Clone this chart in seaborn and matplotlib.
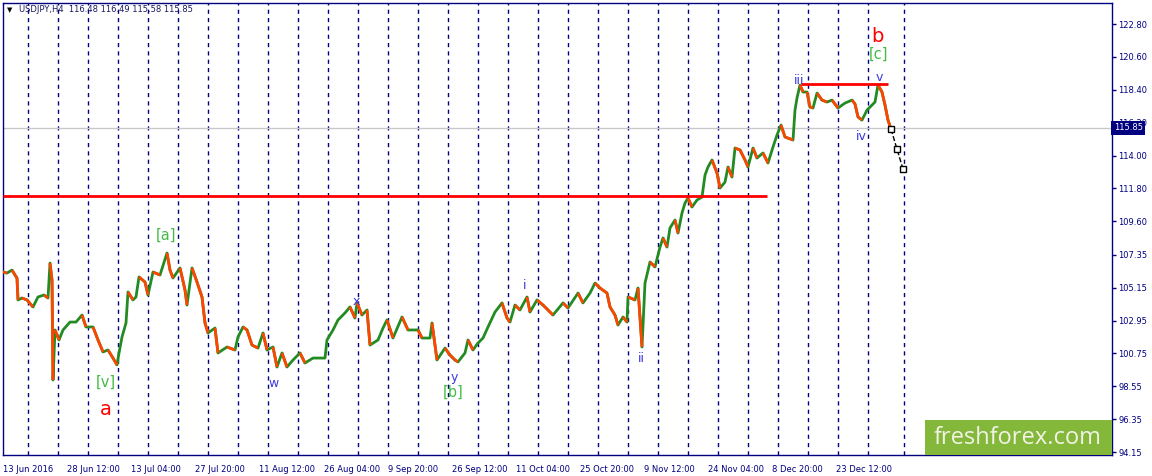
import numpy as np
import seaborn as sns
import matplotlib.pyplot as plt
import matplotlib.transforms as mtransforms
from matplotlib.patches import Rectangle

# H4 bar index (one bar ~ one pixel) and closing prices
bar_idx = [0, 4, 9, 12, 14, 15, 19, 24, 30, 35,
           41, 45, 47, 49, 50, 52, 56, 60, 67, 73,
           79, 83, 90, 95, 100, 105, 110, 114, 116, 119,
           123, 125, 130, 133, 136, 142, 145, 150, 157, 164,
           167, 170, 177, 182, 184, 189, 194, 199, 202, 205,
           212, 215, 224, 232, 235, 240, 244, 249, 255, 260,
           264, 270, 274, 279, 284, 290, 297, 302, 310, 322,
           324, 330, 335, 342, 347, 352, 354, 359, 364, 367,
           375, 380, 384, 390, 399, 405, 415, 419, 427, 429,
           434, 442, 447, 452, 455, 462, 465, 470, 475, 480,
           485, 492, 499, 504, 507, 512, 517, 524, 527, 534,
           540, 550, 560, 565, 575, 580, 587, 592, 597, 604,
           607, 612, 615, 620, 624, 625, 632, 635, 639, 642,
           647, 652, 657, 660, 664, 667, 672, 675, 679, 682,
           685, 689, 694, 699, 702, 705, 709, 714, 717, 722,
           725, 729, 732, 737, 742, 745, 750, 754, 760, 765,
           770, 774, 778, 782, 790, 792, 794, 797, 800, 804,
           807, 810, 814, 819, 824, 829, 835, 842, 849, 852,
           855, 859, 864, 869, 872, 875, 879, 882, 885, 888]
price = [106.20, 106.13, 106.33, 106.00, 105.80, 104.33, 104.46, 104.33, 103.86, 104.53,
         104.66, 104.46, 106.80, 105.67, 98.97, 102.32, 101.65, 102.32, 102.85, 102.85,
         103.32, 102.52, 102.52, 101.65, 100.85, 100.98, 100.44, 99.98, 100.78, 101.85,
         102.79, 104.86, 104.33, 104.53, 105.87, 105.53, 104.66, 106.20, 106.00, 107.47,
         106.33, 105.80, 106.47, 105.00, 103.99, 106.47, 105.53, 104.53, 102.79, 102.12,
         102.45, 100.78, 101.18, 100.98, 101.85, 102.52, 102.32, 101.31, 101.11, 102.12,
         100.98, 101.18, 99.84, 100.78, 99.84, 100.31, 100.78, 100.11, 100.44, 100.44,
         101.65, 102.32, 102.99, 103.46, 103.86, 103.12, 104.13, 103.32, 103.66, 101.31,
         101.65, 102.45, 102.99, 101.78, 103.19, 102.32, 102.32, 101.78, 101.78, 102.79,
         100.31, 101.11, 100.64, 100.31, 100.18, 100.78, 101.65, 100.98, 101.45, 101.78,
         102.52, 103.52, 104.13, 103.12, 102.85, 103.99, 103.66, 104.53, 103.52, 104.33,
         103.99, 103.32, 104.13, 103.79, 104.79, 104.13, 104.79, 105.46, 105.13, 104.79,
         103.86, 103.32, 102.65, 103.19, 102.85, 104.53, 104.33, 105.13, 101.18, 105.46,
         106.87, 106.54, 107.87, 108.48, 107.87, 109.15, 109.68, 108.81, 110.15, 110.82,
         111.15, 110.55, 111.02, 111.22, 112.69, 113.23, 113.70, 112.83, 111.82, 112.22,
         113.23, 112.56, 114.50, 114.37, 113.70, 113.23, 114.50, 113.83, 114.17, 113.50,
         114.57, 115.37, 116.04, 115.24, 115.04, 117.04, 117.85, 118.72, 118.25, 118.25,
         117.24, 117.18, 118.18, 117.71, 117.58, 117.71, 117.18, 117.51, 117.71, 117.45,
         116.58, 116.37, 117.04, 117.38, 117.58, 118.72, 118.25, 117.38, 116.37, 115.77]

# forecast path (black dashed with squares)
proj_x = [888, 894, 900]
proj_price = [115.77, 114.43, 113.09]

# horizontal levels
support_level = 111.29
support_end = 764
top_level = 118.78
top_start, top_end = 798, 885
last_price = 115.85

# wave marks
wave_text = ["a", "[v]", "[a]", "w", "x", "y", "[b]", "i", "ii", "iii", "iv", "v", "b", "[c]"]
wave_x = [102.7, 102.7, 162.7, 271, 353, 451, 450.3, 521.3, 638.7, 796.3, 858.7, 876.3, 874.7, 875.3]
wave_y = [97.01, 98.82, 108.63, 98.75, 104.21, 99.15, 98.12, 105.33, 100.38, 119.05, 115.26, 119.23, 121.95, 120.79]
wave_kind = ["red", "green", "green", "blue", "blue", "blue", "green", "blue", "blue", "blue", "blue", "blue", "red", "green"]

y_ticks = [122.80, 120.60, 118.40, 116.20, 114.00, 111.80, 109.60, 107.35, 105.15, 102.95, 100.75, 98.55, 96.35, 94.15]
x_labels = ["13 Jun 2016", "28 Jun 12:00", "13 Jul 04:00", "27 Jul 20:00", "11 Aug 12:00",
            "26 Aug 04:00", "9 Sep 20:00", "26 Sep 12:00", "11 Oct 04:00", "25 Oct 20:00",
            "9 Nov 12:00", "24 Nov 04:00", "8 Dec 20:00", "23 Dec 12:00"]

sns.set_style("white")
plt.rcParams["font.family"] = ["DejaVu Sans"]

navy = "#000080"
up_col = "#228b22"
down_col = "#ff4500"
kind_col = {"red": "#ff0000", "green": "#44bb44", "blue": "#3a3adf"}
kind_size = {"red": 14, "green": 10.5, "blue": 9}

fig = plt.figure(figsize=(11.52, 4.76), dpi=100)
ax = fig.add_axes([3 / 1152, 21 / 476, 1109 / 1152, 452 / 476])

# weekly separators
week_lines = list(25.3 + 30 * np.arange(29)) + [901.3]
for wx in week_lines:
    ax.axvline(wx, color=navy, lw=1, ls=(0, (3, 3)), zorder=1)

ax.axhline(last_price, color="#c8c8c8", lw=1, zorder=1)

# price line: green base, orange for falling segments
sns.lineplot(x=bar_idx, y=price, color=up_col, lw=2, ax=ax, zorder=3)
for i in range(1, len(price)):
    if price[i] < price[i - 1]:
        ax.plot(bar_idx[i - 1:i + 1], price[i - 1:i + 1], color=down_col, lw=2,
                solid_capstyle="butt", zorder=3)

ax.hlines(support_level, 0, support_end, color="#ff0000", lw=2, zorder=4)
ax.hlines(top_level, top_start, top_end, color="#ff0000", lw=2, zorder=4)

sns.lineplot(x=proj_x, y=proj_price, color="black", lw=1, ls="--", marker="s",
             markersize=5, markerfacecolor="white", markeredgecolor="black",
             markeredgewidth=1, ax=ax, zorder=5)

for t, x, y, k in zip(wave_text, wave_x, wave_y, wave_kind):
    ax.text(x, y, t, color=kind_col[k], fontsize=kind_size[k], ha="center", va="center", zorder=6)

ax.set_xlim(0, 1109)
ax.set_ylim(93.95, 124.21)

ax.yaxis.tick_right()
ax.set_yticks(y_ticks)
ax.set_yticklabels([f"{v:.2f}" for v in y_ticks])
ax.set_xticks([64.1 * i for i in range(len(x_labels))])
ax.set_xticklabels(x_labels)
for lab in ax.get_xticklabels():
    lab.set_ha("left")
ax.tick_params(axis="y", direction="out", length=3, width=1, color=navy, labelcolor=navy,
               labelsize=6, pad=1.5)
ax.tick_params(axis="x", direction="out", length=3, width=1, color=navy, labelcolor=navy,
               labelsize=6, pad=4)
for sp in ax.spines.values():
    sp.set_color(navy)
    sp.set_linewidth(1)
ax.set_xlabel("")
ax.set_ylabel("")
ax.grid(False)

# current price tag
trans = mtransforms.blended_transform_factory(ax.transAxes, ax.transData)
ax.text(1.0015, last_price, "115.85", transform=trans, ha="left", va="center", color="white",
        fontsize=6, clip_on=False, zorder=10,
        bbox=dict(boxstyle="square,pad=0.3", fc=navy, ec="none"))

# header
fig.text(7 / 1152, 1 - 10 / 476, "\u25bc", fontsize=5, color="black", va="center")
fig.text(19 / 1152, 1 - 10 / 476, "USDJPY,H4  116.48 116.49 115.58 115.85", fontsize=6,
         color="#1a1a60", va="center")

# watermark
ax.add_patch(Rectangle((0.8314, 0), 0.1686, 0.0774, transform=ax.transAxes,
                       facecolor="#84b83a", edgecolor="none", zorder=8, clip_on=False))
ax.text(0.9152, 0.0376, "freshforex.com", transform=ax.transAxes, ha="center", va="center",
        color="#f2f2e6", fontsize=17, family=["Open Sans", "DejaVu Sans"], zorder=9)

fig.savefig("out.png", dpi=100)
